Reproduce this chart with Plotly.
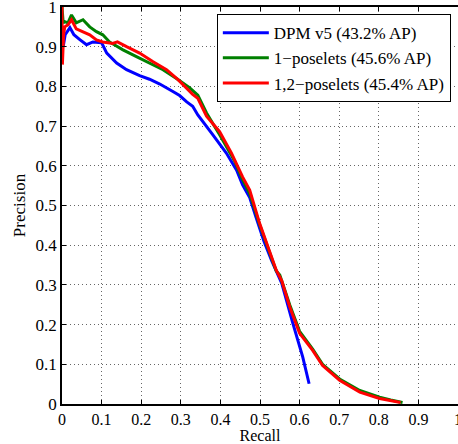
import plotly.graph_objects as go

blue_recall = [0.003, 0.008, 0.02, 0.03, 0.045, 0.062, 0.078, 0.1, 0.113, 0.138, 0.163, 0.196, 0.221, 0.247, 0.28, 0.297, 0.315, 0.33, 0.343, 0.356, 0.381, 0.415, 0.441, 0.456, 0.474, 0.49, 0.51, 0.53, 0.555, 0.583, 0.608, 0.624]
blue_prec = [0.90, 0.93, 0.948, 0.93, 0.918, 0.905, 0.912, 0.91, 0.884, 0.859, 0.842, 0.827, 0.818, 0.806, 0.787, 0.777, 0.761, 0.75, 0.728, 0.71, 0.678, 0.632, 0.589, 0.552, 0.52, 0.47, 0.41, 0.36, 0.304, 0.203, 0.118, 0.051]

green_recall = [0.0, 0.003, 0.007, 0.015, 0.024, 0.036, 0.053, 0.07, 0.087, 0.103, 0.12, 0.154, 0.188, 0.221, 0.255, 0.289, 0.322, 0.343, 0.365, 0.398, 0.437, 0.456, 0.474, 0.499, 0.524, 0.541, 0.55, 0.575, 0.6, 0.633, 0.658, 0.701, 0.752, 0.802, 0.83, 0.86]
green_prec = [1.0, 0.96, 0.963, 0.96, 0.98, 0.96, 0.968, 0.95, 0.938, 0.93, 0.912, 0.892, 0.875, 0.859, 0.842, 0.82, 0.797, 0.778, 0.733, 0.678, 0.61, 0.565, 0.53, 0.452, 0.385, 0.335, 0.325, 0.25, 0.183, 0.138, 0.1, 0.063, 0.034, 0.017, 0.01, 0.004]

red_recall = [0.0, 0.001, 0.004, 0.007, 0.015, 0.024, 0.036, 0.052, 0.07, 0.087, 0.103, 0.128, 0.14, 0.163, 0.196, 0.23, 0.264, 0.293, 0.33, 0.343, 0.365, 0.398, 0.428, 0.456, 0.474, 0.499, 0.524, 0.541, 0.555, 0.575, 0.6, 0.633, 0.658, 0.701, 0.752, 0.802, 0.855]
red_prec = [1.0, 0.855, 0.93, 0.95, 0.955, 0.968, 0.945, 0.938, 0.93, 0.917, 0.912, 0.908, 0.912, 0.9, 0.884, 0.862, 0.842, 0.817, 0.78, 0.77, 0.725, 0.686, 0.632, 0.572, 0.539, 0.455, 0.387, 0.337, 0.31, 0.245, 0.178, 0.135, 0.097, 0.06, 0.03, 0.014, 0.004]

names = ["DPM v5 (43.2% AP)", "1\u2212poselets (45.6% AP)", "1,2\u2212poselets (45.4% AP)"]
colors = ["#0000FF", "#008000", "#FF0000"]
tick_vals = [0, 0.1, 0.2, 0.3, 0.4, 0.5, 0.6, 0.7, 0.8, 0.9, 1]
tick_text = ["0", "0.1", "0.2", "0.3", "0.4", "0.5", "0.6", "0.7", "0.8", "0.9", "1"]

FONT = "Liberation Serif, Times New Roman, Times, serif"

fig = go.Figure()
for xs, ys, nm, c in [(blue_recall, blue_prec, names[0], colors[0]),
                      (green_recall, green_prec, names[1], colors[1]),
                      (red_recall, red_prec, names[2], colors[2])]:
    fig.add_trace(go.Scatter(x=xs, y=ys, mode="lines", name=nm,
                             line=dict(color=c, width=3), cliponaxis=False))

axis_common = dict(
    showgrid=True, gridcolor="rgba(0,0,0,0.6)", gridwidth=1, griddash="1px,3px",
    zeroline=False, showline=True, linecolor="black", linewidth=1.5,
    ticks="inside", ticklen=4, tickcolor="black",
    tickvals=tick_vals, ticktext=tick_text, automargin=False,
    ticklabeloverflow="allow",
)

fig.update_layout(
    width=458, height=444,
    margin=dict(l=62, r=0, t=7, b=40),
    paper_bgcolor="white", plot_bgcolor="white",
    font=dict(family=FONT, size=16, color="black"),
    xaxis=dict(range=[0, 1.0], mirror="ticks",
               tickfont=dict(family=FONT, size=16, color="black"),
               title=dict(text="Recall", font=dict(family=FONT, size=16), standoff=0),
               **axis_common),
    yaxis=dict(range=[0, 1.0], mirror=False,
               tickfont=dict(family=FONT, size=17, color="black"),
               title=dict(text="Precision", font=dict(family=FONT, size=17), standoff=6),
               **axis_common),
    legend=dict(x=0.391, y=0.982, xanchor="left", yanchor="top",
                bgcolor="white", bordercolor="black", borderwidth=1,
                font=dict(family=FONT, size=17, color="black"),
                tracegroupgap=0, itemwidth=46),
    showlegend=True,
)

fig.write_html("out.html", config={"displayModeBar": False},
               post_script="document.body.style.margin='0';document.body.style.overflow='hidden';")
